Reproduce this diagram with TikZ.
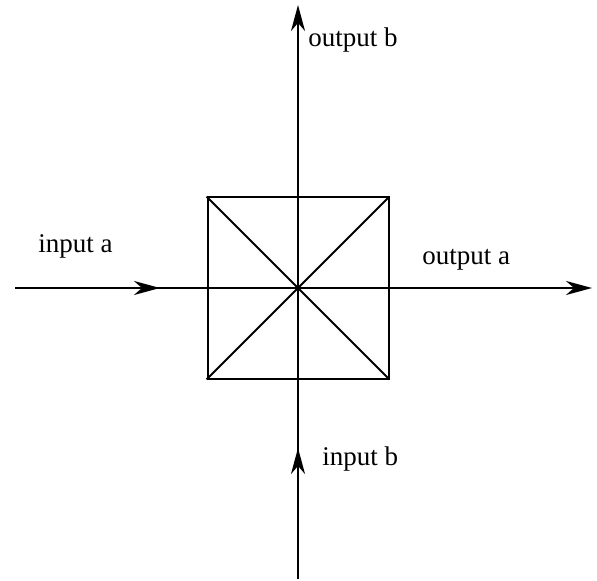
\documentclass[tikz,border=0pt]{standalone}
\usepackage{fontspec}
\setmainfont{Liberation Serif}
\usetikzlibrary{arrows.meta, positioning}
\tikzset{
  flow/.style={line width=1pt, -{Stealth[length=13pt, width=7pt, inset=4pt]}},
  lbl/.style={anchor=base west, inner sep=0pt, font=\fontsize{13.5}{16}\selectfont}
}

\begin{document}
\begin{tikzpicture}[x=0.5pt, y=-0.5pt]
  \useasboundingbox (0,0) rectangle (597,581);
  \node[draw, line width=1pt, minimum size=90.5pt, inner sep=0pt] (box) at (298,288) {};
  \draw[line width=1pt] (box.north west) -- (box.south east)
    (box.north east) -- (box.south west);
  \coordinate (ina) at (15,288);
  \coordinate (tipa) at (160,288);
  \coordinate (outa) at (592,288);
  \coordinate (inb) at (298,579);
  \coordinate (tipb) at (298,448);
  \coordinate (outb) at (298,5);
  % whole lines, with a second head half way
  \draw[flow] (ina) -- (outa);
  \draw[flow] (ina) -- (tipa);
  \draw[flow] (inb) -- (outb);
  \draw[flow] (inb) -- (tipb);
  \node[lbl] (lina) at (38,253) {input a};
  \node[lbl] (louta) at (422,265) {output a};
  \node[lbl] (linb) at (322,465) {input b};
  \node[lbl] (loutb) at (308,47) {output b};
\end{tikzpicture}
\end{document}
